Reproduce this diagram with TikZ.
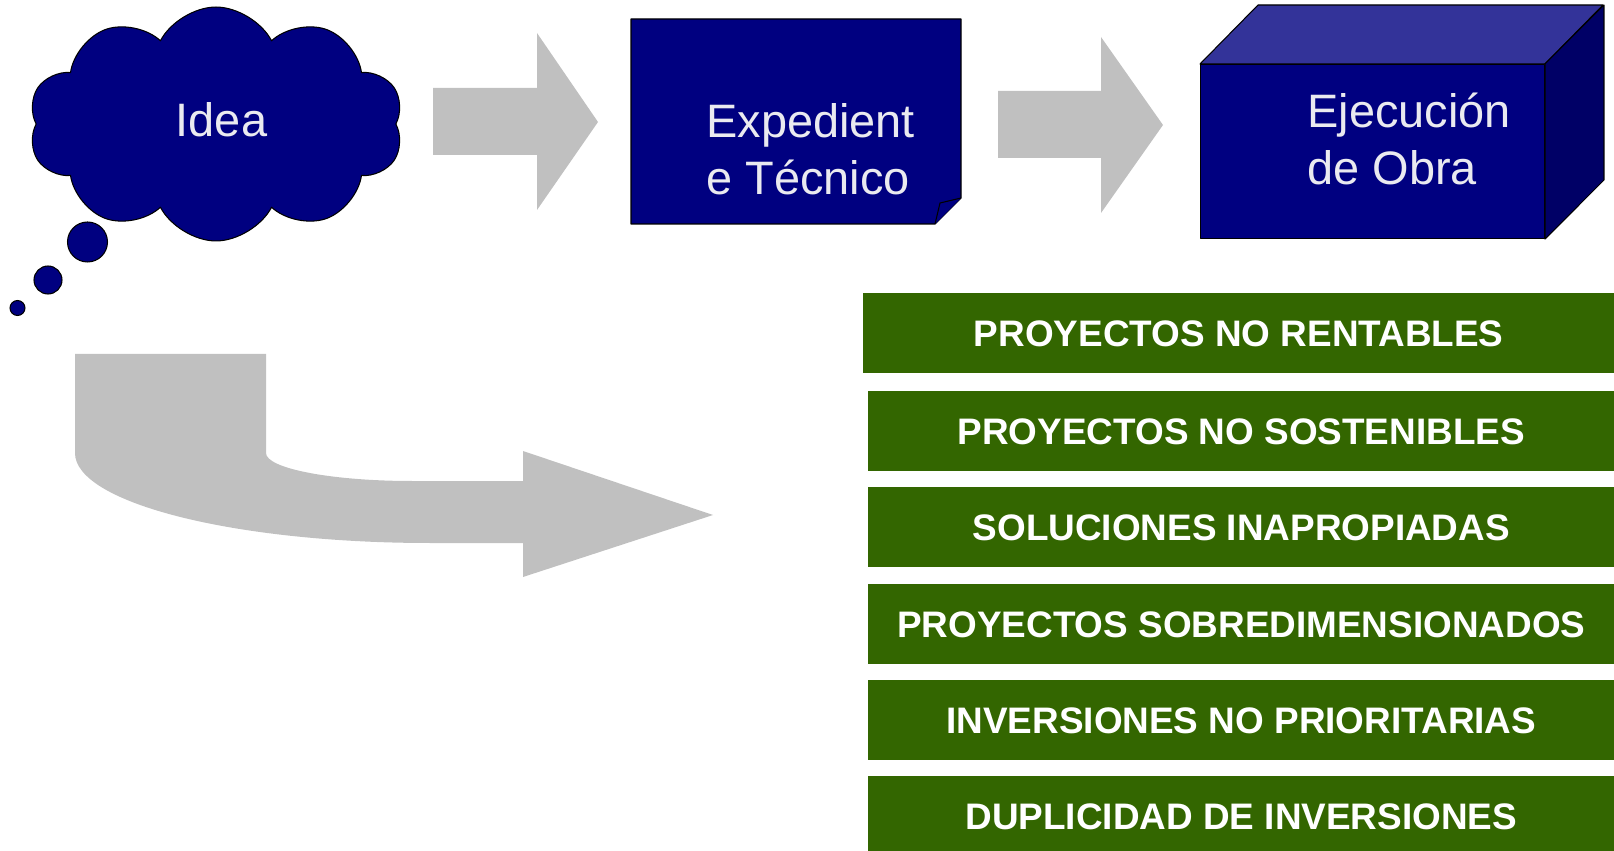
\documentclass[tikz,border=0pt]{standalone}
\usepackage{fontspec}
\setmainfont{Liberation Sans}
\usetikzlibrary{shapes.symbols}
\definecolor{navy}{RGB}{0,0,128}
\definecolor{navytop}{RGB}{51,51,153}
\definecolor{navyside}{RGB}{0,0,102}
\definecolor{arrowgray}{RGB}{192,192,192}
\definecolor{leafgreen}{RGB}{51,102,0}
\definecolor{paletext}{RGB}{234,234,240}

\begin{document}
\begin{tikzpicture}[x=0.02cm,y=-0.02cm]
\tikzset{bluetext/.style = {text=paletext, font=\fontsize{26.7}{33}\selectfont, inner sep=0pt}}
\tikzset{navyshape/.style = {fill=navy, draw=black, line width=0.6pt, line join=round}}
\tikzset{bubble/.style = {circle, navyshape, inner sep=0pt}}
\tikzset{fat/.style = {fill=arrowgray}}
\tikzset{problem/.style = {fill=leafgreen, text=white, inner sep=0pt, minimum height=1.6cm,
  anchor=north west, font=\fontsize{21}{25}\selectfont\bfseries}}
\useasboundingbox (0,0) rectangle (1614,851);
% idea cloud
\node[cloud, cloud puffs=10, cloud puff arc=125, aspect=1.6, navyshape,
  minimum width=7.5cm, minimum height=4.68cm] (idea) at (216,124) {};
\node[bubble, minimum size=0.8cm] (b1) at (87.5,242) {};
\node[bubble, minimum size=0.56cm] (b2) at (48,280) {};
\node[bubble, minimum size=0.3cm] (b3) at (17.5,308) {};
\node[bluetext, anchor=base] (ideatext) at (221.5,137) {Idea};
% expediente
\draw[navyshape] (631,19) -- (961,19) -- (961,198) -- (935,224) -- (631,224) -- cycle;
\draw[navyshape] (935,224) -- (940,203) -- (961,198);
\node[bluetext, anchor=base west, align=left] (exptext) at (706,195) {Expedient\\e Técnico};
% obra
\node[navyshape, rectangle, minimum width=6.88cm, minimum height=3.48cm, anchor=north west,
  inner sep=0pt] (obra) at (1200,64) {};
\draw[navyshape, fill=navytop] (obra.north west) -- ++(58,-59) -- ++(345,0) -- (obra.north east) -- cycle;
\draw[navyshape, fill=navyside] (obra.north east) -- ++(59,-59) -- ++(0,175) -- (obra.south east) -- cycle;
\node[bluetext, anchor=base west, align=left] (obratext) at (1307,185) {Ejecución\\de Obra};
% arrows
\fill[fat] (433,88) -- (537,88) -- (537,33) -- (598,122) -- (537,210) -- (537,155) -- (433,155) -- cycle;
\fill[fat] (998,91) -- (1101,91) -- (1101,37) -- (1163,125) -- (1101,213) -- (1101,158) -- (998,158) -- cycle;
\fill[fat] (75,354) -- (266,354) -- (266,453)
  arc[start angle=180, end angle=90, x radius=146, y radius=28] -- (523,481)
  -- (523,451) -- (713,515) -- (523,577) -- (523,543) -- (430,543)
  arc[start angle=90, end angle=180, x radius=355, y radius=90] -- cycle;
% problems
\node[problem, minimum width=15.02cm] (rentables) at (863,293) {PROYECTOS NO RENTABLES};
\node[problem, minimum width=14.92cm] (sostenibles) at (868,391) {PROYECTOS NO SOSTENIBLES};
\node[problem, minimum width=14.92cm] (soluciones) at (868,487) {SOLUCIONES INAPROPIADAS};
\node[problem, minimum width=14.92cm] (sobredim) at (868,584) {PROYECTOS SOBREDIMENSIONADOS};
\node[problem, minimum width=14.92cm] (prioridad) at (868,680) {INVERSIONES NO PRIORITARIAS};
\node[problem, minimum width=14.92cm] (duplicidad) at (868,776) {DUPLICIDAD DE INVERSIONES};
\end{tikzpicture}
\end{document}
